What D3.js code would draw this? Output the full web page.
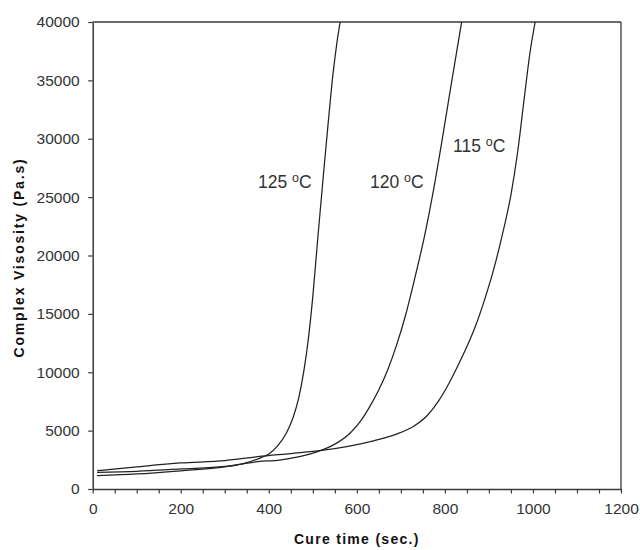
<!DOCTYPE html>
<html><head><meta charset="utf-8">
<script src="https://cdn.jsdelivr.net/npm/d3@7"></script>
<style>
body{margin:0;background:#fff;}
svg{display:block;}
text{font-family:"Liberation Sans",Arial,sans-serif;}
</style></head>
<body><svg id="chart" width="640" height="550"></svg>
<script>
// ---- data ----
const xTicks = [0, 200, 400, 600, 800, 1000, 1200];
const yTicks = [0, 5000, 10000, 15000, 20000, 25000, 30000, 35000, 40000];

const time125 = [10, 100, 200, 300, 340, 380, 400, 420, 440, 455, 468, 480, 490, 500, 512, 524, 535, 546, 555, 562];
const visc125 = [1150, 1290, 1560, 1890, 2150, 2650, 3000, 3700, 4800, 6100, 7800, 10200, 12900, 16500, 21800, 26900, 31400, 35600, 38300, 40000];

const time120 = [10, 100, 200, 300, 375, 425, 470, 517, 555, 585, 610, 630, 650, 670, 690, 710, 730, 755, 775, 795, 815, 838];
const visc120 = [1420, 1520, 1720, 1930, 2340, 2480, 2770, 3280, 3950, 4800, 5900, 7100, 8500, 10200, 12300, 14800, 17800, 21900, 25800, 30200, 34800, 40000];

const time115 = [10, 100, 200, 300, 375, 450, 520, 580, 640, 690, 730, 760, 785, 810, 830, 850, 870, 890, 910, 930, 950, 965, 980, 993, 1005];
const visc115 = [1570, 1900, 2230, 2430, 2770, 3040, 3300, 3650, 4150, 4700, 5400, 6300, 7500, 9100, 10600, 12200, 14000, 16200, 18700, 21700, 25200, 28800, 33400, 37300, 40000];

const seriesNames = ["125", "120", "115"];
const labelPos = [[258, 188], [370, 188], [453, 152]];

// ---- layout ----
const svg = d3.select("#chart");
const L = 92.7, R = 621, T = 22, B = 489;
const x = d3.scaleLinear().domain([0, 1200]).range([L, R]);
const y = d3.scaleLinear().domain([0, 40000]).range([B, T]);
const axisCol = "#3a3a3a", textCol = "#333";

svg.append("defs").append("clipPath").attr("id", "clip")
  .append("rect").attr("x", L).attr("y", T).attr("width", R - L).attr("height", B - T);

// frame top/right
svg.append("line").attr("x1", L).attr("x2", R).attr("y1", T).attr("y2", T).attr("stroke", axisCol).attr("stroke-width", 1.3);
svg.append("line").attr("x1", R).attr("x2", R).attr("y1", T).attr("y2", B).attr("stroke", axisCol).attr("stroke-width", 1.3);

// x axis with minor ticks every 50
const xAxis = svg.append("g").attr("transform", `translate(0,${B})`)
  .call(d3.axisBottom(x).tickValues(d3.range(0, 1201, 50)).tickSize(4.5).tickSizeOuter(0)
    .tickFormat(d => xTicks.includes(d) ? d : ""));
xAxis.select(".domain").attr("stroke", axisCol).attr("stroke-width", 1.5);
xAxis.selectAll(".tick line").attr("stroke", axisCol).attr("stroke-width", 1.2);
xAxis.selectAll(".tick text").attr("fill", textCol).attr("font-size", 15.5)
  .attr("font-family", '"Liberation Sans",Arial,sans-serif').attr("y", 14).attr("dy", "0.71em");

// y axis
const yAxis = svg.append("g").attr("transform", `translate(${L},0)`)
  .call(d3.axisLeft(y).tickValues(yTicks).tickSize(4.5).tickSizeOuter(0).tickFormat(d3.format("d")));
yAxis.select(".domain").attr("stroke", axisCol).attr("stroke-width", 1.5);
yAxis.selectAll(".tick line").attr("stroke", axisCol).attr("stroke-width", 1.2);
yAxis.selectAll(".tick text").attr("fill", textCol).attr("font-size", 15.5)
  .attr("font-family", '"Liberation Sans",Arial,sans-serif').attr("x", -13);

// curves
const series = [
  time125.map((t, i) => [t, visc125[i]]),
  time120.map((t, i) => [t, visc120[i]]),
  time115.map((t, i) => [t, visc115[i]])
];
const line = d3.line().x(d => x(d[0])).y(d => y(d[1])).curve(d3.curveMonotoneX);
svg.append("g").attr("clip-path", "url(#clip)").selectAll("path").data(series).join("path")
  .attr("d", line).attr("fill", "none").attr("stroke", "#222").attr("stroke-width", 1.25);

// curve labels
seriesNames.forEach((n, i) => {
  const t = svg.append("text").attr("x", labelPos[i][0]).attr("y", labelPos[i][1])
    .attr("fill", textCol).attr("font-size", 17.5);
  t.append("tspan").text(n + " ");
  t.append("tspan").text("o").attr("font-size", 12.5).attr("dy", -6);
  t.append("tspan").text("C").attr("dy", 6);
});

// axis titles
svg.append("text").attr("x", (L + R) / 2).attr("y", 544).attr("text-anchor", "middle")
  .attr("font-weight", "bold").attr("font-size", 14).attr("letter-spacing", 1.3).attr("fill", "#111")
  .text("Cure time (sec.)");
svg.append("text").attr("transform", `translate(24,${(T + B) / 2 + 2}) rotate(-90)`).attr("text-anchor", "middle")
  .attr("font-weight", "bold").attr("font-size", 14).attr("letter-spacing", 1.8).attr("fill", "#111")
  .text("Complex Visosity (Pa.s)");
</script></body></html>
